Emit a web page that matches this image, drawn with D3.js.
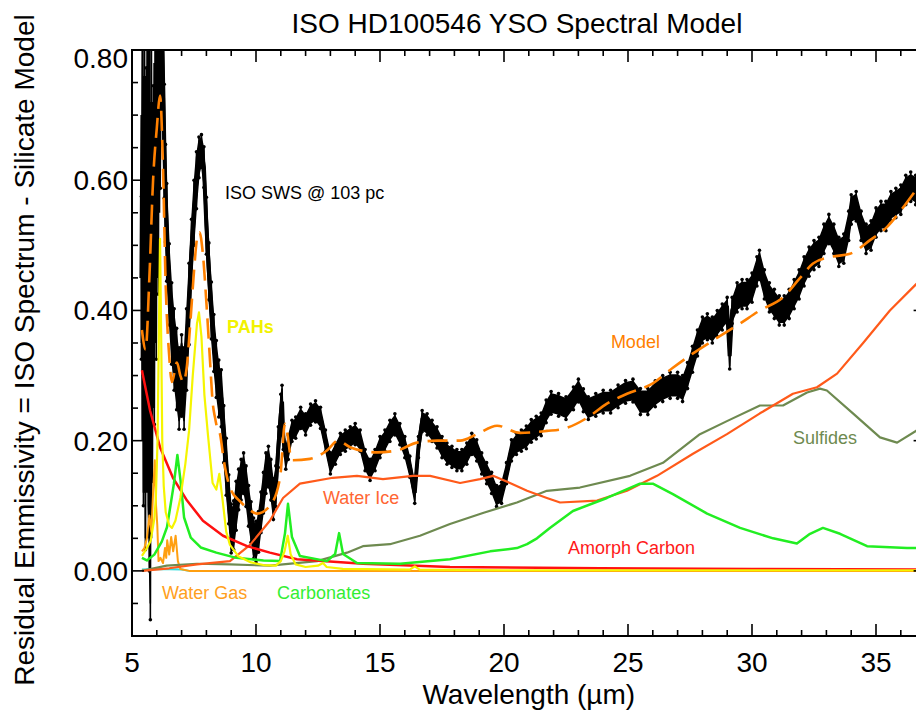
<!DOCTYPE html>
<html>
<head>
	<meta charset="utf-8">
	<script src="https://cdn.jsdelivr.net/npm/d3@7"></script>
	<style>
		body { margin: 0; background: #fff; }
		text { font-family: "Liberation Sans", Arial, Helvetica, sans-serif; }
	</style>
</head>
<body>
<script type="text/javascript">

	// ISO SWS spectrum (residual after silicate model)
	var isoWave = [5.38,5.42,5.46,5.50,5.54,5.58,5.62,5.66,5.70,5.74,5.78,5.82,5.86,5.90,5.94,5.98,
		6.02,6.06,6.10,6.14,6.18,6.22,6.26,6.30,6.35,6.40,6.50,6.60,6.70,6.80,6.90,7.00,7.10,7.20,
		7.30,7.40,7.50,7.60,7.70,7.80,7.90,8.00,8.10,8.20,8.30,8.40,8.50,8.60,8.70,8.80,8.90,9.00,
		9.10,9.20,9.30,9.40,9.50,9.60,9.70,9.80,9.90,10.0,10.1,10.2,10.3,10.4,10.5,10.6,10.7,10.8,
		10.9,11.0,11.05,11.1,11.2,11.3,11.45,11.6,11.8,12.0,12.2,12.4,12.6,12.8,13.0,13.2,13.4,13.6,
		13.8,14.0,14.2,14.4,14.6,14.8,15.0,15.2,15.4,15.6,15.8,16.0,16.2,16.4,16.55,16.7,16.9,17.1,
		17.3,17.5,17.7,17.9,18.1,18.3,18.5,18.7,18.9,19.1,19.3,19.5,19.7,19.9,20.1,20.3,20.5,20.7,
		20.9,21.1,21.3,21.5,21.7,21.9,22.2,22.5,22.8,23.0,23.2,23.4,23.7,24.0,24.3,24.6,24.9,25.2,
		25.5,25.8,26.1,26.4,26.7,27.0,27.2,27.4,27.6,27.8,28.0,28.2,28.4,28.6,28.8,29.0,29.1,29.2,
		29.4,29.6,29.8,30.0,30.2,30.3,30.5,30.7,30.9,31.1,31.3,31.5,31.7,31.9,32.1,32.3,32.5,32.7,
		32.9,33.1,33.3,33.5,33.7,33.9,34.0,34.2,34.4,34.6,34.8,35.0,35.2,35.4,35.6,35.8,36.0,36.2,
		36.4,36.6,36.8];
	var isoFlux = [0.45,0.70,0.20,0.76,0.12,0.66,0.30,0.86,0.10,0.05,0.72,0.25,0.62,0.35,0.78,0.45,
		0.90,0.55,0.92,0.70,0.90,0.82,0.74,0.66,0.58,0.52,0.44,0.38,0.34,0.31,0.28,0.30,0.28,0.34,
		0.41,0.49,0.55,0.60,0.635,0.645,0.62,0.53,0.46,0.40,0.35,0.31,0.28,0.265,0.21,0.16,0.11,0.065,
		0.07,0.10,0.125,0.14,0.15,0.13,0.10,0.075,0.05,0.045,0.06,0.09,0.12,0.15,0.16,0.14,0.11,0.13,
		0.19,0.24,0.26,0.205,0.175,0.19,0.215,0.22,0.235,0.225,0.24,0.245,0.235,0.20,0.165,0.18,0.195,0.20,
		0.205,0.21,0.20,0.17,0.155,0.17,0.19,0.20,0.215,0.225,0.21,0.19,0.16,0.12,0.19,0.23,0.225,0.215,
		0.205,0.19,0.18,0.175,0.17,0.17,0.18,0.195,0.185,0.165,0.15,0.135,0.115,0.12,0.15,0.185,0.195,0.20,
		0.205,0.215,0.22,0.225,0.245,0.258,0.255,0.25,0.265,0.277,0.262,0.25,0.255,0.26,0.26,0.268,0.275,0.277,
		0.26,0.26,0.272,0.28,0.285,0.285,0.28,0.30,0.325,0.35,0.37,0.375,0.37,0.38,0.39,0.40,0.33,0.40,
		0.42,0.425,0.425,0.435,0.46,0.47,0.44,0.42,0.41,0.40,0.40,0.41,0.425,0.44,0.46,0.475,0.485,0.49,
		0.51,0.525,0.51,0.49,0.495,0.53,0.555,0.56,0.53,0.51,0.515,0.535,0.545,0.545,0.56,0.565,0.57,0.585,
		0.59,0.585,0.59];
	// half-height of the scatter band at each point
	var isoErr = [0.10,0.10,0.08,0.08,0.07,0.09,0.09,0.08,0.08,0.10,0.09,0.09,0.10,0.10,0.09,0.10,
		0.08,0.10,0.08,0.09,0.08,0.08,0.07,0.07,0.06,0.06,0.05,0.05,0.05,0.05,0.05,0.05,0.05,0.05,
		0.05,0.04,0.04,0.035,0.025,0.02,0.025,0.035,0.035,0.035,0.035,0.035,0.035,0.035,0.035,0.035,0.03,0.03,
		0.03,0.03,0.025,0.025,0.025,0.025,0.025,0.025,0.025,0.025,0.025,0.025,0.025,0.025,0.025,0.025,0.025,0.025,
		0.025,0.025,0.02,0.015,0.015,0.015,0.013,0.013,0.013,0.013,0.013,0.013,0.013,0.013,0.013,0.013,0.013,0.013,
		0.013,0.013,0.013,0.013,0.013,0.013,0.013,0.013,0.013,0.013,0.013,0.013,0.013,0.013,0.013,0.013,0.013,0.013,
		0.013,0.013,0.013,0.013,0.013,0.013,0.013,0.013,0.013,0.013,0.013,0.013,0.013,0.013,0.013,0.013,0.013,0.013,
		0.014,0.014,0.014,0.014,0.014,0.014,0.014,0.014,0.014,0.014,0.014,0.014,0.014,0.014,0.014,0.014,0.014,0.014,
		0.016,0.016,0.016,0.016,0.016,0.016,0.016,0.016,0.016,0.016,0.016,0.016,0.016,0.016,0.016,0.016,0.016,0.016,
		0.018,0.018,0.018,0.018,0.018,0.018,0.018,0.018,0.018,0.018,0.018,0.018,0.018,0.018,0.018,0.018,0.018,0.018,
		0.018,0.018,0.018,0.018,0.018,0.018,0.018,0.018,0.018,0.018,0.018,0.018,0.018,0.018,0.018,0.018,0.018,0.018,
		0.018,0.018,0.018];

	// total model (dashed)
	var modelWave = [5.40,5.55,5.70,5.85,6.00,6.13,6.25,6.35,6.50,6.61,6.81,6.95,7.06,7.20,7.35,7.50,
		7.62,7.72,7.85,8.02,8.15,8.25,8.35,8.43,8.55,8.70,8.95,9.35,9.70,10.04,10.56,10.97,11.17,11.45,
		12.18,12.86,13.31,13.79,14.88,15.69,16.49,17.30,18.23,18.91,19.72,20.65,21.73,22.38,23.35,24.15,
		24.96,26.00,26.81,27.62,28.43,29.52,30.32,31.25,31.94,32.46,33.15,33.95,34.76,35.44,36.09,36.61,36.90];
	var modelFlux = [0.37,0.34,0.45,0.60,0.68,0.73,0.62,0.45,0.33,0.29,0.32,0.30,0.29,0.31,0.38,0.46,
		0.51,0.52,0.49,0.40,0.32,0.26,0.235,0.22,0.21,0.17,0.128,0.107,0.095,0.088,0.10,0.143,0.226,0.17,
		0.172,0.185,0.20,0.19,0.182,0.185,0.197,0.20,0.20,0.21,0.223,0.212,0.215,0.218,0.235,0.257,
		0.272,0.288,0.312,0.334,0.354,0.38,0.40,0.42,0.45,0.472,0.482,0.487,0.508,0.528,0.558,0.585,0.60];

	// dust and gas components
	var iceWave = [5.40,6.50,7.62,8.95,9.76,10.56,11.09,11.77,13.10,14.07,15.12,16.33,17.02,18.23,19.03,
		19.56,20.24,20.93,21.73,22.26,23.75,24.96,26.17,27.62,28.99,30.32,31.65,32.62,33.43,34.48,35.56,36.61,36.90];
	var iceFlux = [0.0,0.004,0.01,0.015,0.04,0.077,0.112,0.134,0.143,0.146,0.141,0.146,0.146,0.135,0.141,
		0.146,0.135,0.123,0.112,0.105,0.108,0.123,0.146,0.18,0.21,0.242,0.272,0.282,0.303,0.35,0.40,0.44,0.45];

	var sulfWave = [5.40,6.40,7.62,8.95,10.56,12.46,13.67,14.31,15.40,16.61,17.82,19.15,20.52,21.73,23.06,
		25.08,26.41,27.90,28.99,30.32,31.25,32.22,32.74,33.02,34.07,35.16,35.85,36.61,36.90];
	var sulfFlux = [0.0,0.008,0.011,0.010,0.008,0.015,0.028,0.038,0.041,0.054,0.072,0.089,0.105,0.123,0.128,
		0.146,0.166,0.21,0.23,0.254,0.254,0.274,0.28,0.277,0.242,0.205,0.197,0.215,0.222];

	var carbWave = [5.40,5.60,5.90,6.20,6.41,6.55,6.69,6.83,6.96,7.10,7.37,7.77,8.40,9.20,10.30,10.97,
		11.17,11.29,11.45,11.77,12.86,13.19,13.35,13.51,14.07,15.81,17.82,19.44,20.52,20.93,21.33,21.85,
		22.78,24.15,25.48,26.00,26.81,28.19,29.52,30.85,31.81,32.34,32.86,33.55,34.64,36.25,36.90];
	var carbFlux = [0.02,0.016,0.025,0.045,0.067,0.10,0.134,0.178,0.138,0.082,0.051,0.036,0.028,0.02,0.016,0.015,
		0.058,0.103,0.052,0.023,0.015,0.026,0.058,0.026,0.012,0.011,0.018,0.03,0.035,0.041,0.05,0.066,
		0.092,0.112,0.134,0.134,0.118,0.088,0.066,0.05,0.042,0.057,0.066,0.057,0.038,0.035,0.035];

	var amcWave = [5.40,5.73,6.13,6.65,7.22,7.86,8.67,9.64,10.56,11.65,14.31,17.82,23.87,30.0,36.90];
	var amcFlux = [0.308,0.246,0.19,0.143,0.108,0.077,0.054,0.038,0.028,0.018,0.011,0.006,0.004,0.003,0.002];

	var pahWave = [5.40,5.60,5.75,5.90,5.96,6.03,6.08,6.13,6.18,6.22,6.28,6.36,6.50,6.61,6.75,6.95,
		7.15,7.30,7.45,7.62,7.70,7.80,7.92,8.06,8.25,8.40,8.52,8.65,8.80,8.95,9.30,9.80,10.3,10.8,
		11.0,11.15,11.28,11.40,11.60,12.0,12.5,12.7,12.85,13.5,16.2,16.4,16.6,20.0,36.9];
	var pahFlux = [0.023,0.035,0.046,0.08,0.11,0.20,0.35,0.51,0.35,0.20,0.13,0.09,0.07,0.066,0.077,0.112,
		0.164,0.215,0.30,0.38,0.397,0.36,0.27,0.21,0.135,0.125,0.149,0.11,0.06,0.04,0.022,0.013,0.009,0.008,
		0.015,0.03,0.054,0.025,0.01,0.006,0.008,0.012,0.006,0.003,0.002,0.007,0.002,0.001,0.001];

	var gasWave = [5.40,5.50,5.60,5.70,5.78,5.85,5.92,5.97,6.02,6.07,6.15,6.25,6.33,6.38,6.42,6.50,
		6.58,6.66,6.76,6.85,6.95,7.30,36.90];
	var gasFlux = [0.03,0.035,0.05,0.085,0.06,0.12,0.17,0.10,0.07,0.015,0.02,0.012,0.035,0.02,0.047,0.025,
		0.052,0.03,0.054,0.015,0.003,0.0,0.0];

	var cyanWave = [5.40,6.00,7.00,7.30];
	var cyanFlux = [0.002,0.003,0.002,0.0];

	// axis ticks
	var xMajor = [5, 10, 15, 20, 25, 30, 35];
	var yMajor = [0.0, 0.2, 0.4, 0.6, 0.8];
	var yLabels = ["0.00", "0.20", "0.40", "0.60", "0.80"];

	// labels placed in data units
	var labelText = ["ISO SWS @ 103 pc", "PAHs", "Model", "Water Ice", "Sulfides",
		"Amorph Carbon", "Water Gas", "Carbonates"];
	var labelWave = [8.75, 8.83, 24.31, 12.70, 31.65, 22.58, 6.21, 10.85];
	var labelFlux = [0.571, 0.365, 0.342, 0.103, 0.195, 0.026, -0.043, -0.043];
	var labelColor = ["#000000", "#f2f200", "#ff8000", "#ff6633", "#6e8a50",
		"#ff1a1a", "#ffa020", "#33ee33"];

	// figure setup
	var width = 916, height = 716;
	var plotLeft = 132, plotRight = 925.6, plotTop = 50, plotBottom = 636;

	var svg = d3.select("body").append("svg")
		.attr("width", width)
		.attr("height", height);

	var x = d3.scaleLinear().domain([5, 37]).range([plotLeft, plotRight]);
	var y = d3.scaleLinear().domain([-0.1, 0.8]).range([plotBottom, plotTop]);

	svg.append("clipPath").attr("id", "plotclip")
		.append("rect")
		.attr("x", plotLeft).attr("y", plotTop)
		.attr("width", plotRight - plotLeft).attr("height", plotBottom - plotTop);

	var plot = svg.append("g").attr("clip-path", "url(#plotclip)");

	function pairs(wv, fl) {
		return wv.map(function(w, i) { return [w, fl[i]]; });
	}
	var line = d3.line()
		.x(function(d) { return x(d[0]); })
		.y(function(d) { return y(d[1]); });

	// ISO data: scatter band, error bars, line and dots
	var iso = isoWave.map(function(w, i) {
		return { w: w, f: isoFlux[i], e: isoErr[i] };
	});
	var band = d3.area()
		.x(function(d) { return x(d.w); })
		.y0(function(d) { return y(d.f - d.e); })
		.y1(function(d) { return y(d.f + d.e); });
	plot.append("path")
		.datum(iso)
		.attr("d", band)
		.style("fill", "#000")
		.style("stroke", "#000")
		.style("stroke-width", 1.5);
	plot.selectAll("line.err").data(iso).enter().append("line")
		.attr("class", "err")
		.attr("x1", function(d) { return x(d.w); })
		.attr("x2", function(d) { return x(d.w); })
		.attr("y1", function(d) { return y(d.f - d.e * 1.25); })
		.attr("y2", function(d) { return y(d.f + d.e * 1.25); })
		.style("stroke", "#000")
		.style("stroke-width", 1.6);
	plot.append("path")
		.datum(pairs(isoWave, isoFlux))
		.attr("d", line)
		.style("fill", "none")
		.style("stroke", "#000")
		.style("stroke-width", 4);
	plot.selectAll("circle.cap").data(iso.concat(iso)).enter().append("circle")
		.attr("class", "cap")
		.attr("cx", function(d) { return x(d.w); })
		.attr("cy", function(d, i) { return i < iso.length ? y(d.f - d.e * 1.25) : y(d.f + d.e * 1.25); })
		.attr("r", 1.8)
		.style("fill", "#000");

	// component curves
	var comps = [
		[cyanWave, cyanFlux, "#33dddd", 2],
		[gasWave, gasFlux, "#ff9f10", 2],
		[sulfWave, sulfFlux, "#6e8a50", 2.2],
		[iceWave, iceFlux, "#ff5a1a", 2.2],
		[amcWave, amcFlux, "#ff1010", 2.5],
		[carbWave, carbFlux, "#22ee22", 2.5],
		[pahWave, pahFlux, "#f5f500", 2.2]
	];
	comps.forEach(function(c) {
		plot.append("path")
			.datum(pairs(c[0], c[1]))
			.attr("d", line)
			.style("fill", "none")
			.style("stroke", c[2])
			.style("stroke-width", c[3])
			.style("stroke-linejoin", "round");
	});

	// model, dashed
	plot.append("path")
		.datum(pairs(modelWave, modelFlux))
		.attr("d", line.curve(d3.curveMonotoneX))
		.style("fill", "none")
		.style("stroke", "#ff8000")
		.style("stroke-width", 2.6)
		.style("stroke-dasharray", "20,9");

	// frame
	svg.append("rect")
		.attr("x", plotLeft).attr("y", plotTop)
		.attr("width", plotRight - plotLeft).attr("height", plotBottom - plotTop)
		.style("fill", "none")
		.style("stroke", "#000")
		.style("stroke-width", 2);

	// ticks: major 12 px, minor 6 px, on all four sides
	var xMinor = d3.range(5, 38, 1);
	var yMinor = d3.range(-0.1, 0.801, 0.05);
	var ticks = svg.append("g").style("stroke", "#000").style("stroke-width", 1.6);
	xMinor.forEach(function(v) {
		var len = xMajor.indexOf(v) >= 0 ? 12 : 6;
		ticks.append("line").attr("x1", x(v)).attr("x2", x(v))
			.attr("y1", plotBottom).attr("y2", plotBottom - len);
		ticks.append("line").attr("x1", x(v)).attr("x2", x(v))
			.attr("y1", plotTop).attr("y2", plotTop + len);
	});
	yMinor.forEach(function(v) {
		var major = yMajor.some(function(m) { return Math.abs(m - v) < 1e-6; });
		var len = major ? 12 : 6;
		ticks.append("line").attr("x1", plotLeft).attr("x2", plotLeft + len)
			.attr("y1", y(v)).attr("y2", y(v));
		ticks.append("line").attr("x1", plotRight).attr("x2", plotRight - len)
			.attr("y1", y(v)).attr("y2", y(v));
	});

	// tick labels
	svg.selectAll("text.xt").data(xMajor).enter().append("text")
		.attr("x", function(d) { return x(d); })
		.attr("y", plotBottom + 36)
		.style("text-anchor", "middle")
		.style("font-size", "28px")
		.text(function(d) { return d; });
	svg.selectAll("text.yt").data(yMajor).enter().append("text")
		.attr("x", plotLeft - 4)
		.attr("y", function(d) { return y(d) + (d >= 0.8 ? 18 : 10); })
		.style("text-anchor", "end")
		.style("font-size", "28px")
		.text(function(d, i) { return yLabels[i]; });

	// titles
	svg.append("text")
		.attr("x", 517).attr("y", 33)
		.style("text-anchor", "middle")
		.style("font-size", "28px")
		.text("ISO HD100546 YSO Spectral Model");
	svg.append("text")
		.attr("x", (plotLeft + plotRight) / 2).attr("y", 704)
		.style("text-anchor", "middle")
		.style("font-size", "28px")
		.text("Wavelength (\u00b5m)");
	svg.append("text")
		.attr("transform", "translate(34,350) rotate(-90)")
		.style("text-anchor", "middle")
		.style("font-size", "28px")
		.text("Residual Emmissivity = ISO Spectrum - Silicate Model");

	// component labels
	labelText.forEach(function(t, i) {
		svg.append("text")
			.attr("x", x(labelWave[i]))
			.attr("y", y(labelFlux[i]))
			.style("font-size", "18px")
			.style("font-weight", t === "PAHs" ? "bold" : "normal")
			.style("fill", labelColor[i])
			.text(t);
	});

</script>
</body>
</html>
